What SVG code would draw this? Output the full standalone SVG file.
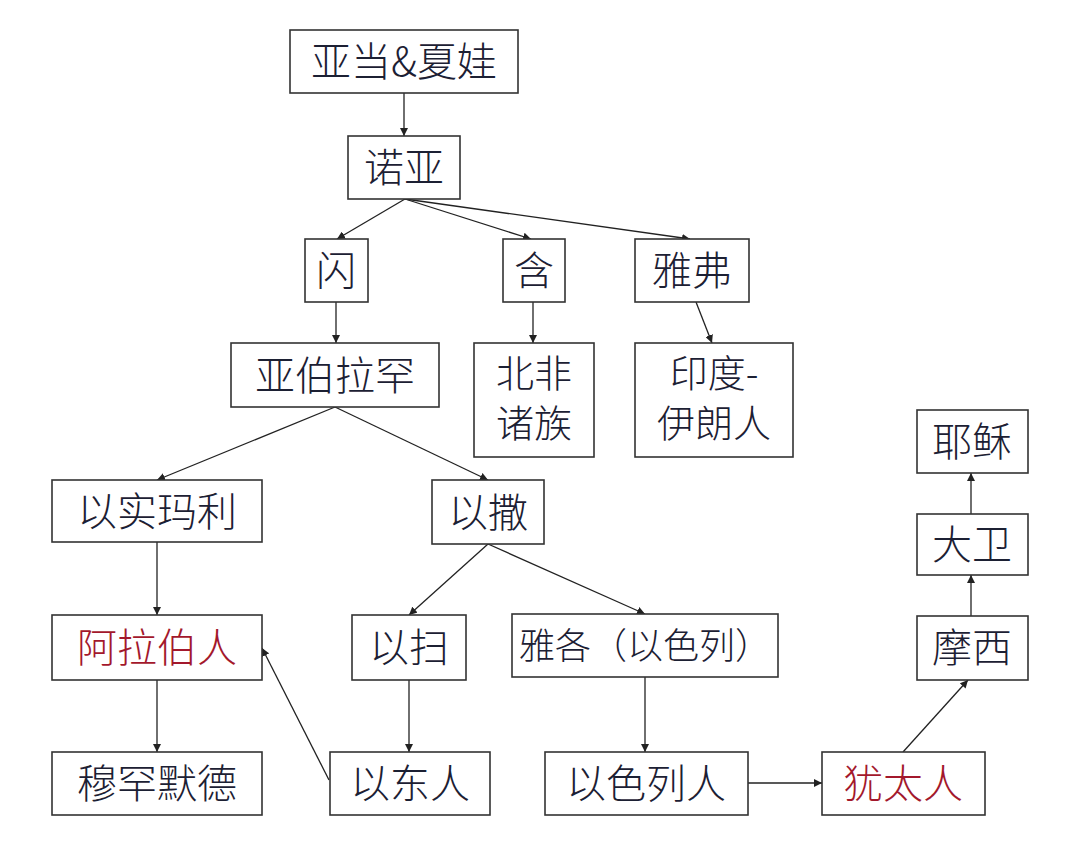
<svg xmlns="http://www.w3.org/2000/svg" width="1080" height="852" viewBox="0 0 1080 852">
<style>
.box{fill:#fff;stroke:#333;stroke-width:1.6}
.t{font-family:"Noto Sans CJK SC","Noto Sans",sans-serif;font-size:40px;font-weight:300;fill:#1c2033;text-anchor:middle}
.m{font-size:38px}
.r{fill:#a3182c}
.c{fill:none;stroke:#222;stroke-width:1.3}
</style>
<defs>
<marker id="a" viewBox="0 0 10 10" refX="10" refY="5" markerWidth="8" markerHeight="8" markerUnits="userSpaceOnUse" orient="auto">
<path d="M0,0 L10,5 L0,10 z" fill="#222"/>
</marker>
</defs>
<rect width="1080" height="852" fill="#fff"/>
<g id="connectors" class="c" marker-end="url(#a)">
<line x1="404" y1="93" x2="404" y2="136"/>
<line x1="405" y1="199" x2="337" y2="239"/>
<line x1="405" y1="199" x2="531" y2="239"/>
<line x1="405" y1="199" x2="690" y2="239"/>
<line x1="336" y1="302" x2="336" y2="343"/>
<line x1="533" y1="302" x2="533" y2="343"/>
<line x1="696" y1="302" x2="712" y2="343"/>
<line x1="335" y1="407" x2="157" y2="480"/>
<line x1="335" y1="407" x2="488" y2="480"/>
<line x1="157" y1="542" x2="157" y2="615"/>
<line x1="157" y1="680" x2="157" y2="752"/>
<line x1="488" y1="544" x2="409" y2="615"/>
<line x1="488" y1="544" x2="645" y2="614"/>
<line x1="409" y1="680" x2="409" y2="752"/>
<line x1="329" y1="780" x2="262" y2="648"/>
<line x1="645" y1="677" x2="645" y2="752"/>
<line x1="748" y1="783" x2="822" y2="783"/>
<line x1="903" y1="752" x2="968" y2="680"/>
<line x1="971" y1="616" x2="971" y2="575"/>
<line x1="971" y1="514" x2="971" y2="473"/>
</g>
<g id="n1"><rect class="box" x="290" y="30" width="228" height="63"/><text class="t" x="404" y="76">亚当&amp;夏娃</text></g>
<g id="n2"><rect class="box" x="348" y="136" width="112" height="63"/><text class="t" x="404" y="182">诺亚</text></g>
<g id="n3"><rect class="box" x="305" y="239" width="63" height="63"/><text class="t" x="336" y="285">闪</text></g>
<g id="n4"><rect class="box" x="503" y="239" width="62" height="63"/><text class="t" x="534" y="285">含</text></g>
<g id="n5"><rect class="box" x="635" y="239" width="114" height="63"/><text class="t" x="692" y="285">雅弗</text></g>
<g id="n6"><rect class="box" x="231" y="343" width="208" height="64"/><text class="t" x="335" y="390">亚伯拉罕</text></g>
<g id="n7"><rect class="box" x="474" y="343" width="120" height="114"/><text class="t m" x="534" y="387">北非</text><text class="t m" x="534" y="437">诸族</text></g>
<g id="n8"><rect class="box" x="635" y="343" width="158" height="114"/><text class="t m" x="714" y="387">印度-</text><text class="t m" x="714" y="437">伊朗人</text></g>
<g id="n9"><rect class="box" x="917" y="410" width="111" height="63"/><text class="t" x="972" y="456">耶稣</text></g>
<g id="n10"><rect class="box" x="52" y="480" width="210" height="62"/><text class="t" x="157" y="526">以实玛利</text></g>
<g id="n11"><rect class="box" x="432" y="480" width="112" height="64"/><text class="t" x="488" y="527">以撒</text></g>
<g id="n12"><rect class="box" x="917" y="514" width="111" height="61"/><text class="t" x="972" y="559">大卫</text></g>
<g id="n13"><rect class="box" x="52" y="615" width="210" height="65"/><text class="t r" x="157" y="662">阿拉伯人</text></g>
<g id="n14"><rect class="box" x="352" y="615" width="114" height="65"/><text class="t" x="409" y="662">以扫</text></g>
<g id="n15"><rect class="box" x="512" y="614" width="266" height="63"/><text class="t" x="645" y="659" style="font-size:36px">雅各（以色列）</text></g>
<g id="n16"><rect class="box" x="917" y="616" width="111" height="64"/><text class="t" x="972" y="662">摩西</text></g>
<g id="n17"><rect class="box" x="52" y="752" width="210" height="63"/><text class="t" x="157" y="798">穆罕默德</text></g>
<g id="n18"><rect class="box" x="330" y="752" width="160" height="63"/><text class="t" x="410" y="798">以东人</text></g>
<g id="n19"><rect class="box" x="545" y="752" width="203" height="63"/><text class="t" x="646" y="798">以色列人</text></g>
<g id="n20"><rect class="box" x="822" y="752" width="163" height="63"/><text class="t r" x="903" y="798">犹太人</text></g>
</svg>
